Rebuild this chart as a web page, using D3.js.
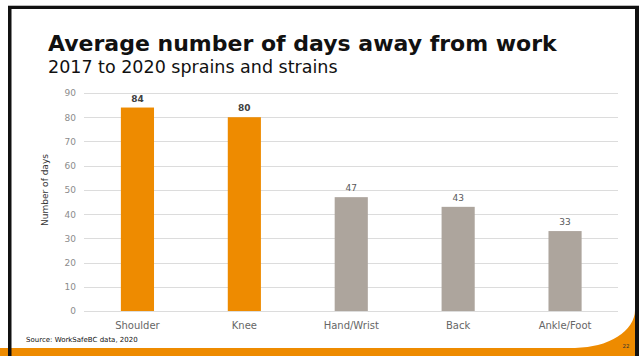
<!DOCTYPE html>
<html>
<head>
<meta charset="utf-8">
<script src="https://cdn.jsdelivr.net/npm/d3@7"></script>
<style>
  html, body { margin: 0; padding: 0; background: #fff; }
  svg { display: block; font-family: "DejaVu Sans", Verdana, sans-serif; }
</style>
</head>
<body>
<svg id="chart" width="639" height="356"></svg>
<script>
// Injury categories and average days away from work
const categories = ["Shoulder", "Knee", "Hand/Wrist", "Back", "Ankle/Foot"];
const avgDays = [84, 80, 47, 43, 33];
const highlighted = [true, true, false, false, false];
const yTicks = [0, 10, 20, 30, 40, 50, 60, 70, 80, 90];

const svg = d3.select("#chart");
const W = 639, H = 356;

// Slide background and frame
svg.append("rect").attr("x", 0).attr("y", 0).attr("width", W).attr("height", H).attr("fill", "#fff");
svg.append("rect").attr("x", 0).attr("y", 348).attr("width", W).attr("height", 8).attr("fill", "#ee8b00");
svg.append("path")
  .attr("d", "M575,348 A60,38 0 0 0 635,310 L635,348 Z")
  .attr("fill", "#ee8b00");
svg.append("rect").attr("x", 8).attr("y", 5).attr("width", 631).attr("height", 1).attr("fill", "#bbb");
svg.append("rect").attr("x", 8).attr("y", 6).attr("width", 631).attr("height", 3).attr("fill", "#111");
svg.append("rect").attr("x", 8).attr("y", 6).attr("width", 3.5).attr("height", 350).attr("fill", "#111");
svg.append("rect").attr("x", 635).attr("y", 6).attr("width", 4).attr("height", 350).attr("fill", "#111");

// Titles
svg.append("text").attr("x", 48).attr("y", 51)
  .attr("font-size", 22).attr("font-weight", "bold").attr("fill", "#111")
  .text("Average number of days away from work");
svg.append("text").attr("x", 48).attr("y", 73)
  .attr("font-size", 17.5).attr("fill", "#111")
  .text("2017 to 2020 sprains and strains");

// Scales
const x = d3.scaleBand().domain(categories).range([84, 618.5]).paddingInner(0.69).paddingOuter(0.345);
const y = d3.scaleLinear().domain([0, 90]).range([311, 93]);

// Gridlines
svg.append("g").selectAll("line").data(yTicks).join("line")
  .attr("x1", 84).attr("x2", 618)
  .attr("y1", d => Math.round(y(d)) + 0.5).attr("y2", d => Math.round(y(d)) + 0.5)
  .attr("stroke", "#dcdcdc").attr("stroke-width", 1);

// Y axis ticks
const yAxis = d3.axisLeft(y).tickValues(yTicks).tickSize(0).tickPadding(0);
const gy = svg.append("g").attr("transform", "translate(76,0)").call(yAxis);
gy.select(".domain").remove();
gy.selectAll("text").attr("font-size", 9).attr("fill", "#8c8c8c").attr("font-family", "DejaVu Sans, Verdana, sans-serif");

// Y axis title
svg.append("text")
  .attr("transform", "translate(48,190) rotate(-90)")
  .attr("text-anchor", "middle").attr("font-size", 9).attr("fill", "#333")
  .text("Number of days");

// Bars
svg.append("g").selectAll("rect").data(categories).join("rect")
  .attr("x", d => x(d))
  .attr("width", x.bandwidth())
  .attr("y", (d, i) => y(avgDays[i]))
  .attr("height", (d, i) => y(0) - y(avgDays[i]))
  .attr("fill", (d, i) => highlighted[i] ? "#ee8b00" : "#ada59d");

// Value labels
svg.append("g").selectAll("text").data(categories).join("text")
  .attr("x", d => x(d) + x.bandwidth() / 2)
  .attr("y", (d, i) => y(avgDays[i]) - 6)
  .attr("text-anchor", "middle")
  .attr("font-size", 9)
  .attr("font-weight", (d, i) => highlighted[i] ? "bold" : "normal")
  .attr("fill", (d, i) => highlighted[i] ? "#404040" : "#595959")
  .text((d, i) => avgDays[i]);

// X axis labels
const xAxis = d3.axisBottom(x).tickSize(0).tickPadding(0);
const gx = svg.append("g").attr("transform", "translate(0,321.5)").call(xAxis);
gx.select(".domain").remove();
gx.selectAll("text").attr("font-size", 10).attr("fill", "#666").attr("font-family", "DejaVu Sans, Verdana, sans-serif");

// Footer
svg.append("text").attr("x", 26).attr("y", 342)
  .attr("font-size", 7).attr("fill", "#111")
  .text("Source: WorkSafeBC data, 2020");
svg.append("text").attr("x", 626).attr("y", 348)
  .attr("font-size", 5.5).attr("fill", "#333").attr("text-anchor", "middle")
  .text("22");
</script>
</body>
</html>
